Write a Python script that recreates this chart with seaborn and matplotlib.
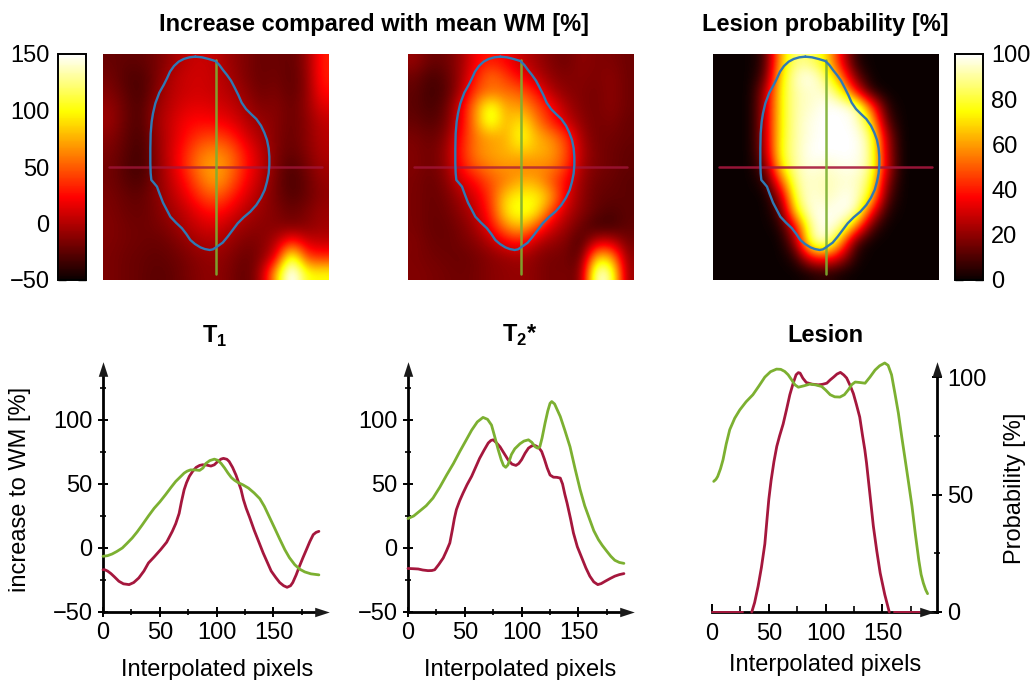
#!/usr/bin/env python3
"""T1 / T2* / lesion maps with their line profiles, values read off the figure."""

import matplotlib.pyplot as plt
import numpy as np
import seaborn as sns

# Maps, 15 x 15 cells, read by eye from the colours (top row first)
T1_MAP = [
    [-22, -24, -24, -18, -8, 4, 8, 4, -8, -15, -22, -20, -24, -10, 32],
    [-18, -28, -30, -18, 0, 8, 10, 5, -4, -15, -22, -18, -26, -12, 32],
    [-14, -25, -32, -14, 2, 8, 10, 6, 0, -10, -20, -15, -25, -12, 26],
    [-8, -22, -30, -8, 4, 14, 16, 12, 6, -4, -15, -12, -22, -10, 15],
    [-6, -22, -30, -6, 8, 22, 25, 22, 16, 2, -8, -12, -22, -12, 5],
    [-12, -24, -32, -10, 8, 26, 40, 44, 34, 12, -2, -14, -22, -12, 2],
    [-16, -26, -34, -12, 10, 34, 58, 65, 54, 26, 4, -14, -24, -14, 0],
    [-18, -28, -34, -14, 8, 36, 64, 74, 58, 28, 6, -16, -30, -18, -4],
    [-18, -26, -30, -14, 5, 26, 54, 72, 50, 22, 2, -18, -32, -22, -8],
    [-16, -22, -24, -14, 0, 16, 38, 50, 32, 12, -4, -18, -28, -22, -10],
    [-15, -20, -22, -16, -5, 5, 20, 28, 16, 0, -8, -14, -22, -15, -6],
    [-14, -18, -20, -18, -12, 0, 8, 12, 0, -8, -12, -12, -15, -12, -5],
    [-15, -18, -20, -22, -18, -10, -2, 0, -8, -16, -14, 0, 40, 10, 5],
    [-16, -20, -22, -24, -22, -16, -10, -8, -14, -22, -14, 15, 130, 40, 35],
    [-16, -20, -22, -26, -24, -18, -12, -10, -16, -25, -5, 80, 170, 100, 100],
]
T2_MAP = [
    [-8, -22, -20, -8, 22, 30, 22, 5, -5, -15, -20, -10, -15, -15, -20],
    [-20, -32, -26, -5, 30, 60, 40, 22, 4, -10, -15, -12, -16, -10, -20],
    [-24, -34, -28, -3, 45, 55, 55, 50, 28, 0, -12, -14, -18, -10, -20],
    [-25, -32, -24, 15, 66, 115, 70, 72, 48, 25, -2, -14, -18, -10, -20],
    [-22, -28, -20, 15, 68, 118, 72, 98, 62, 32, 8, -10, -18, -14, -22],
    [-16, -22, -14, 25, 60, 70, 74, 108, 78, 65, 40, -4, -18, -18, -22],
    [-14, -20, -8, 30, 62, 72, 76, 84, 78, 72, 48, 0, -16, -20, -24],
    [-14, -20, -10, 25, 50, 62, 68, 60, 62, 62, 40, -4, -16, -20, -24],
    [-16, -22, -14, 10, 25, 48, 60, 78, 75, 48, 22, -8, -20, -22, -26],
    [-16, -22, -18, -4, 12, 40, 90, 100, 100, 76, 16, -10, -22, -24, -25],
    [-16, -22, -20, -10, 4, 34, 95, 108, 98, 40, 4, -12, -24, -30, -25],
    [-16, -22, -22, -16, -4, 22, 62, 82, 45, 10, -6, -22, -34, -34, -24],
    [-14, -20, -22, -18, -12, 0, 20, 28, 2, -8, -14, -34, 10, 10, -18],
    [-15, -18, -20, -22, -18, -12, -8, -4, -12, -18, -18, -28, 90, 80, -12],
    [-14, -16, -18, -20, -18, -12, -10, -8, -12, -18, -16, -20, 150, 130, -10],
]
LESION_MAP = [
    [0, 0, 0, 8, 65, 88, 85, 72, 35, 3, 0, 0, 0, 0, 0],
    [0, 0, 0, 12, 72, 95, 100, 85, 55, 14, 0, 0, 0, 0, 0],
    [0, 0, 0, 25, 75, 92, 95, 95, 78, 38, 4, 0, 0, 0, 0],
    [0, 0, 0, 27, 75, 92, 95, 100, 100, 95, 50, 5, 0, 0, 0],
    [0, 0, 0, 28, 75, 92, 98, 100, 100, 98, 72, 12, 0, 0, 0],
    [0, 0, 0, 27, 76, 92, 98, 100, 100, 100, 88, 25, 0, 0, 0],
    [0, 0, 0, 25, 78, 92, 100, 100, 100, 100, 90, 28, 0, 0, 0],
    [0, 0, 0, 15, 72, 92, 98, 94, 98, 98, 90, 30, 0, 0, 0],
    [0, 0, 0, 5, 48, 90, 95, 92, 95, 95, 82, 20, 0, 0, 0],
    [0, 0, 0, 0, 22, 85, 98, 92, 98, 98, 72, 12, 0, 0, 0],
    [0, 0, 0, 0, 10, 72, 98, 98, 100, 95, 38, 4, 0, 0, 0],
    [0, 0, 0, 0, 3, 35, 92, 100, 92, 55, 10, 0, 0, 0, 0],
    [0, 0, 0, 0, 0, 20, 90, 98, 60, 8, 0, 0, 0, 0, 0],
    [0, 0, 0, 0, 0, 5, 38, 45, 28, 2, 0, 0, 0, 0, 0],
    [0, 0, 0, 0, 0, 0, 2, 5, 1, 0, 0, 0, 0, 0, 0],
]

# Lesion outline, in pixels of the 3x crop of the first map
OUTLINE_ZX = [585, 605, 625, 645, 657, 668, 680, 692, 703, 714, 724, 737, 752, 768, 782, 792, 800, 805, 807,
              807, 805, 800, 793, 782, 768, 750, 730, 712, 697, 682, 667, 650, 638, 628, 613, 600, 584, 570,
              558, 545, 527, 510, 498, 488, 478, 470, 460, 453, 451, 450, 450, 451, 454, 458, 465, 477, 490,
              500, 509, 521, 535, 550, 567, 585]
OUTLINE_ZY = [50, 52, 57, 63, 75, 90, 105, 122, 143, 165, 188, 207, 222, 237, 257, 278, 300, 325, 350,
              375, 400, 425, 450, 473, 495, 515, 532, 550, 570, 590, 608, 620, 628, 630, 627, 622, 612, 600,
              582, 565, 548, 530, 507, 488, 462, 440, 428, 420, 400, 370, 325, 280, 245, 220, 190, 158, 135,
              115, 95, 78, 65, 57, 52, 50]
H_PROFILE_X = [6.3, 219]
H_PROFILE_Y = [113, 113]
V_PROFILE_X = [113, 113]
V_PROFILE_Y = [6, 220]

# Profiles
T1_RED_X = [0, 1.5, 4, 7, 10, 14, 18, 23, 27, 31.5, 36, 40, 45, 50.7, 56, 61, 64, 67, 69, 71.4, 73.5, 76, 79,
            82, 85, 87.6, 91, 95, 98, 101, 104, 106, 109, 111, 114, 117, 119, 121.5, 123.5, 126, 129, 133,
            137, 141, 144.5, 148, 152, 155.5, 159, 162, 165, 167, 170, 173, 176, 179, 182, 185, 187.5, 190]
T1_RED_Y = [-17, -17, -18, -20, -22.5, -26, -28, -28.6, -27, -23.4, -18, -11.7, -7, -1.3, 4.5, 13, 19, 27, 36,
            45.5, 51, 56, 60, 63, 64.5, 65, 64.8, 64, 65, 67.6, 69.5, 70, 69.3, 67.6, 63, 57, 52, 45.5, 38,
            31, 24, 14, 5, -4, -11, -18, -23, -27, -29.5, -30.7, -29.5, -27, -21, -14, -7.5, -1.3, 5, 10.4,
            12.2, 13]
T1_GREEN_X = [0, 4, 8, 12, 17, 21, 25.7, 30, 34.5, 40, 45, 50, 55, 60, 64, 68, 71.4, 74, 77, 81, 85, 88, 90.5,
              94, 98, 101, 104, 107, 110, 113, 115.6, 119, 123, 128, 133, 138, 142, 146, 151, 155.5, 160,
              164, 168.7, 173, 177.6, 183, 190]
T1_GREEN_Y = [-6.5, -6, -4.7, -2.8, 0, 3.5, 7.8, 12.5, 18, 25, 31, 36, 41.6, 47.5, 52, 55.5, 58.5, 60, 61, 61,
              60.6, 62.5, 66, 68.3, 69.4, 68.5, 66, 62.5, 58.5, 55, 53, 51, 49.4, 46.8, 43, 38.5, 32.5, 25,
              15.6, 7, -1.3, -7.5, -13, -16.5, -18.7, -20.2, -21]
T2_RED_X = [0, 5, 9, 13, 17.6, 21, 23.5, 27, 31, 34, 36.8, 39, 40.8, 42.6, 45.5, 48.5, 52, 56, 59.5, 63, 67,
            70.6, 73, 75, 78, 81, 84.5, 88, 91.5, 95, 97.5, 100, 103, 106, 109, 112, 115, 117.6, 120, 122.5,
            125, 128, 131, 134, 136, 138, 140, 143, 145.6, 149, 153, 156.5, 160, 163.5, 167, 170, 173.5,
            178, 182, 186, 190]
T2_RED_Y = [-16, -16.2, -16.4, -17.2, -17.7, -17.6, -17, -13, -7.8, -2, 3.9, 14, 23, 30, 37, 43, 49.5, 56, 63,
            70, 76.5, 82, 84, 84.5, 82, 79, 74, 69, 65.5, 64.5, 66, 69, 74, 78, 79.8, 80, 78.5, 75.4, 69.5,
            62.5, 57, 55.3, 55.2, 54.6, 50, 42, 35, 23, 11.7, 1, -7.8, -15.5, -22, -26.5, -28.6, -27.8, -26,
            -23.8, -22, -20.8, -20]
T2_GREEN_X = [0, 5, 10, 16, 22, 28, 34, 40, 45.6, 51, 56, 61, 66, 70, 73.5, 76, 79.4, 82, 84, 86, 88, 91, 94,
              98.5, 102, 106, 109, 112, 114, 116, 118, 120.6, 123, 125, 126.5, 129, 134, 138, 142.6, 147,
              151.5, 155.5, 160, 163.5, 167.6, 171, 175, 178.5, 182, 186, 190]
T2_GREEN_Y = [23, 25, 28.6, 33, 39, 47.5, 57, 66, 75.4, 84, 92, 98.5, 102, 100.5, 96, 88, 76.7, 69, 64.5, 63,
              65, 73, 77.5, 81.4, 83.5, 84.5, 82.5, 79, 78, 79, 86, 97.5, 107, 113, 114.4, 112.5, 102.7, 92,
              79, 62, 45.5, 33, 22, 13.5, 6.5, 2, -2.6, -6.5, -9.6, -11.3, -12]
LESION_RED_X = [35, 37.5, 40.6, 43.5, 46.5, 48.5, 50, 52, 54.5, 57, 59.5, 62.6, 65.5, 68.5, 71.5, 74, 76, 77.5,
                80, 83, 88, 93.5, 97, 101, 104, 107, 110, 113, 116, 118.5, 121.5, 124.4, 127, 130, 132.5,
                134.5, 136, 139, 142, 145, 148, 152, 156]
LESION_RED_Y = [0, 4, 11, 19, 29, 40, 48, 56, 64, 70.5, 75, 80, 86, 92.5, 97.5, 101, 101.9, 101.7,
                99.5, 97.7, 97, 96.7, 96.9, 97.4, 98.8, 100, 101.3, 102, 100.9, 99.6, 96.5, 93, 88.5, 83, 75,
                69, 63.4, 50, 36.5, 26, 16.6, 7.5, 0]
LESION_BASE_LEFT_X = [0, 27]
LESION_BASE_RIGHT_X = [160, 190]
LESION_BASE_Y = [0, 0]
LESION_GREEN_X = [1.5, 3.5, 5, 7.5, 9.7, 12.5, 15.6, 20, 24.4, 30, 36, 41, 46.5, 51.5, 56.8, 60.5, 64, 67, 70,
                  73, 76, 81, 86, 91, 96.5, 100, 104, 108, 112.6, 116.5, 120, 123, 126, 130, 134.7, 139, 143.5,
                  147.5, 152, 155, 158, 161, 164, 167, 170, 173, 176, 179, 182, 184, 186, 188, 189.7]
LESION_GREEN_Y = [55.6, 56.5, 57.7, 61, 64.8, 71.5, 77.6, 82.5, 86, 89.5, 92.5, 96, 100, 102.3, 103.4, 103.3,
                  102.4, 101, 98.9, 96.7, 95.7, 96.3, 97, 96.7, 96, 94.5, 92.5, 91.6, 91.5, 92.5, 94.6, 96.8,
                  97.9, 97.7, 97.4, 100, 103, 104.8, 106, 105, 101, 93, 84.7, 74.5, 64.8, 55, 45, 33, 22, 16,
                  12.3, 9.5, 7.8]

RED = "#a5173d"
GREEN = "#7cb031"
BLUE = "#2f79b5"
FIG_W, FIG_H = 1036, 680
PX_IMG_Y = (54, 280)
PX_PLOT_Y = (363, 612)
ARROW_RIGHT = [(-1, -0.65), (1, 0), (-1, 0.65)]
ARROW_UP = [(-0.65, -1), (0, 1), (0.65, -1)]
FONT = 17


def px_rect(left, right, top, bottom):
    return [left / FIG_W, 1 - bottom / FIG_H, (right - left) / FIG_W, (bottom - top) / FIG_H]


def draw_map(fig, left, grid, vmin, vmax, line_alpha):
    ax = fig.add_axes(px_rect(left, left + 225, *PX_IMG_Y))
    im = ax.imshow(np.array(grid, dtype=float), cmap="hot", vmin=vmin, vmax=vmax,
                   interpolation="bicubic", extent=(0, 225, 226, 0), aspect="auto")
    outline_x = (np.array(OUTLINE_ZX) - 308) / 3
    outline_y = (np.array(OUTLINE_ZY) - 42) / 3
    sns.lineplot(x=H_PROFILE_X, y=H_PROFILE_Y, ax=ax, color=RED, linewidth=1.8, alpha=line_alpha,
                 estimator=None, sort=False)
    sns.lineplot(x=V_PROFILE_X, y=V_PROFILE_Y, ax=ax, color=GREEN, linewidth=1.8, alpha=0.9,
                 estimator=None, sort=False)
    sns.lineplot(x=outline_x, y=outline_y, ax=ax, color=BLUE, linewidth=1.7, estimator=None, sort=False)
    ax.set_xlim(0, 225)
    ax.set_ylim(226, 0)
    ax.set_axis_off()
    return im


def draw_colorbar(fig, im, left, ticks, labels, side):
    cax = fig.add_axes(px_rect(left, left + 28, *PX_IMG_Y))
    cb = fig.colorbar(im, cax=cax)
    cb.outline.set_linewidth(1.4)
    cb.set_ticks(ticks, labels=labels)
    cax.yaxis.set_ticks_position(side)
    cax.tick_params(axis="y", left=True, right=True, direction="in", length=6, width=1,
                    labelleft=side == "left", labelright=side == "right", labelsize=FONT, pad=6)


def draw_profile(fig, left, series, ylim, yticks, yminor, right_axis=False):
    ax = fig.add_axes(px_rect(left, left + 225, *PX_PLOT_Y))
    for x, y, color, lw in series:
        sns.lineplot(x=x, y=y, ax=ax, color=color, linewidth=lw, estimator=None, sort=False,
                     clip_on=False, zorder=5)
    ax.set_xlim(0, 198)
    ax.set_ylim(*ylim)
    sns.despine(ax=ax, left=right_axis, right=not right_axis)
    side = "right" if right_axis else "left"
    for name in ("bottom", side):
        ax.spines[name].set_linewidth(2)
    arrow_y = ylim[0] + 0.976 * (ylim[1] - ylim[0])
    ax.spines[side].set_bounds(ylim[0], arrow_y)
    if not right_axis:
        ax.spines["bottom"].set_bounds(0, 192)
    ax.set_xticks([0, 50, 100, 150])
    ax.set_xticks([25, 75, 125, 175], minor=True)
    ax.set_yticks(yticks)
    ax.set_yticklabels([str(v).replace("-", "\u2212") for v in yticks])
    ax.set_yticks(yminor, minor=True)
    ax.yaxis.set_ticks_position(side)
    ax.tick_params(which="major", direction="inout", length=7, width=1.4, labelsize=FONT, pad=4)
    ax.tick_params(which="minor", direction="inout", length=4, width=1.2)
    if right_axis:
        ax.tick_params(axis="x", which="major", direction="in", length=6, pad=8)
        ax.tick_params(axis="x", which="minor", direction="in", length=4)
    ax.patch.set_alpha(0)
    # axis arrows
    ax.plot(0.956 if right_axis else 0.973, 0, marker=ARROW_RIGHT, color="k", markersize=10.5, mew=0,
            transform=ax.transAxes, clip_on=False, zorder=6)
    ax.plot(1 if right_axis else 0, 0.976, marker=ARROW_UP, color="k", markersize=10.5, mew=0,
            transform=ax.transAxes, clip_on=False, zorder=6)
    return ax


def main():
    sns.set_theme(style="ticks")
    plt.rcParams["font.family"] = ["Liberation Sans", "DejaVu Sans"]
    plt.rcParams.update({
        "text.color": "black",
        "axes.edgecolor": "black",
        "xtick.color": "black",
        "ytick.color": "black",
        "mathtext.fontset": "custom",
        "mathtext.bf": "Liberation Sans:bold",
        "mathtext.rm": "Liberation Sans",
        "lines.solid_joinstyle": "round",
    })

    fig = plt.figure(figsize=(FIG_W / 100, FIG_H / 100), dpi=100)

    im_t1 = draw_map(fig, 103, T1_MAP, -50, 150, 0.75)
    draw_map(fig, 408, T2_MAP, -50, 150, 0.75)
    im_les = draw_map(fig, 713, LESION_MAP, 0, 100, 0.9)
    draw_colorbar(fig, im_t1, 58, [-50, 0, 50, 100, 150],
                  ["\u221250", "0", "50", "100", "150"], "left")
    draw_colorbar(fig, im_les, 955, [0, 20, 40, 60, 80, 100],
                  ["0", "20", "40", "60", "80", "100"], "right")

    wm_ticks, wm_minor = [-50, 0, 50, 100], [-25, 25, 75, 125]
    draw_profile(fig, 103, [(T1_RED_X, T1_RED_Y, RED, 2), (T1_GREEN_X, T1_GREEN_Y, GREEN, 2)],
                 (-50, 144.5), wm_ticks, wm_minor)
    draw_profile(fig, 408, [(T2_RED_X, T2_RED_Y, RED, 2), (T2_GREEN_X, T2_GREEN_Y, GREEN, 2)],
                 (-50, 144.5), wm_ticks, wm_minor)
    draw_profile(fig, 712, [(LESION_BASE_LEFT_X, LESION_BASE_Y, RED, 1.4),
                            (LESION_BASE_RIGHT_X, LESION_BASE_Y, RED, 1.4),
                            (LESION_RED_X, LESION_RED_Y, RED, 2),
                            (LESION_GREEN_X, LESION_GREEN_Y, GREEN, 2)],
                 (0, 106), [0, 50, 100], [25, 75], right_axis=True)

    def put(x, y, text, **kw):
        fig.text(x / FIG_W, 1 - y / FIG_H, text, ha="center", va="center", **kw)

    put(374, 24, "Increase compared with mean WM [%]", fontsize=FONT, fontweight="bold")
    put(825, 24, "Lesion probability [%]", fontsize=FONT, fontweight="bold")
    put(215, 336, r"T$_{\mathbf{1}}$", fontsize=FONT, fontweight="bold")
    put(520, 335, r"T$_{\mathbf{2}}$*", fontsize=FONT, fontweight="bold")
    put(825, 335, "Lesion", fontsize=FONT, fontweight="bold")
    for cx, cy in ((217, 670), (520, 670), (825, 665)):
        put(cx, cy, "Interpolated pixels", fontsize=FONT)
    put(20, 489, "increase to WM [%]", fontsize=FONT, rotation=90)
    put(1015, 488, "Probability [%]", fontsize=FONT, rotation=90)

    fig.savefig("out.png", dpi=100, facecolor="white")


if __name__ == "__main__":
    main()
